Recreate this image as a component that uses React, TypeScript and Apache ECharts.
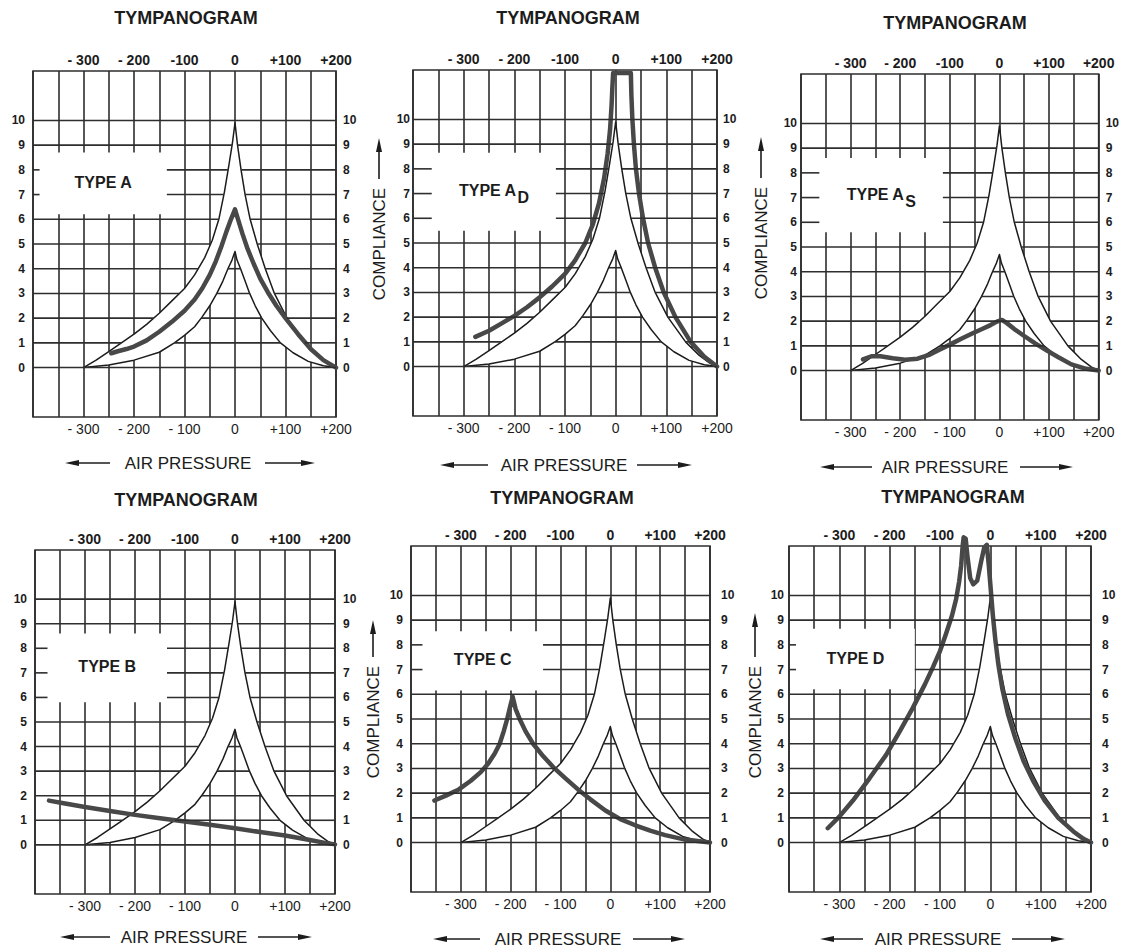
import React, { useEffect, useRef } from 'react';
import * as echarts from 'echarts';

// ---------- data ----------
const xMin = -400;
const xMax = 200;
const yMin = -2;
const yMax = 12;
const xTickValues = [-300, -200, -100, 0, 100, 200];
const xTopLabels = ['- 300', '- 200', '-100', '0', '+100', '+200'];
const xBottomLabels = ['- 300', '- 200', '- 100', '0', '+100', '+200'];
const yTickValues = [0, 1, 2, 3, 4, 5, 6, 7, 8, 9, 10];

// normal (Type A) region: upper and lower cusp boundaries
const normalOuter = [
  [-300, 0], [-275, 0.3], [-250, 0.65], [-225, 1.0], [-200, 1.35], [-175, 1.75], [-150, 2.2],
  [-125, 2.7], [-100, 3.2], [-80, 3.75], [-60, 4.45], [-45, 5.15], [-32, 6.0], [-21, 7.1],
  [-12, 8.2], [-5, 9.1], [0, 9.9], [5, 9.0], [12, 8.0], [20, 7.0], [30, 6.0], [44, 5.0],
  [60, 4.0], [78, 3.0], [103, 2.0], [138, 1.0], [165, 0.45], [185, 0.15], [200, 0],
];
const normalInner = [
  [-300, 0], [-250, 0.1], [-200, 0.3], [-150, 0.62], [-120, 1.0], [-100, 1.3], [-80, 1.65],
  [-65, 2.05], [-50, 2.5], [-36, 3.0], [-24, 3.5], [-14, 4.0], [-6, 4.35], [0, 4.7],
  [4, 4.35], [11, 4.0], [20, 3.5], [29, 3.0], [40, 2.5], [53, 2.0], [70, 1.5], [90, 1.0],
  [115, 0.6], [145, 0.25], [175, 0.07], [200, 0],
];

// patient tympanograms
const typeA = [
  [-245, 0.58], [-232, 0.66], [-215, 0.75], [-200, 0.85], [-175, 1.1], [-150, 1.45], [-125, 1.85],
  [-100, 2.3], [-80, 2.75], [-65, 3.2], [-50, 3.75], [-38, 4.3], [-27, 4.9], [-17, 5.5], [-8, 6.0],
  [0, 6.4], [6, 6.0], [15, 5.4], [25, 4.8], [37, 4.2], [50, 3.6], [65, 3.05], [82, 2.5], [100, 2.0],
  [125, 1.35], [150, 0.75], [175, 0.3], [200, 0],
];
const typeAD = [
  [-277, 1.2], [-250, 1.45], [-225, 1.75], [-200, 2.05], [-175, 2.4], [-150, 2.8], [-125, 3.25],
  [-100, 3.75], [-80, 4.3], [-60, 5.0], [-45, 5.75], [-33, 6.6], [-23, 7.6], [-16, 8.6], [-11, 9.6],
  [-8, 10.6], [-6.5, 11.3], [-5, 11.88], [30, 11.88], [31, 11], [33, 10], [36, 9], [40, 8], [46, 7],
  [54, 6], [64, 5], [78, 4], [95, 3], [118, 2], [148, 1], [175, 0.4], [200, 0],
];
const typeAS = [
  [-275, 0.45], [-258, 0.58], [-240, 0.58], [-215, 0.5], [-190, 0.44], [-165, 0.48], [-140, 0.65],
  [-120, 0.85], [-100, 1.05], [-78, 1.28], [-55, 1.5], [-35, 1.68], [-18, 1.84], [-5, 1.98], [5, 2.05],
  [15, 1.92], [30, 1.68], [50, 1.4], [72, 1.1], [95, 0.82], [118, 0.55], [145, 0.25], [175, 0.07], [200, 0],
];
const typeB = [
  [-372, 1.8], [-340, 1.68], [-300, 1.54], [-250, 1.38], [-200, 1.22], [-150, 1.08], [-100, 0.95],
  [-50, 0.82], [0, 0.68], [50, 0.52], [100, 0.38], [150, 0.2], [180, 0.08], [200, 0.02],
];
const typeC = [
  [-353, 1.7], [-330, 1.9], [-304, 2.15], [-280, 2.5], [-260, 2.85], [-245, 3.2], [-232, 3.6],
  [-222, 4.0], [-214, 4.5], [-207, 5.0], [-201, 5.5], [-196, 5.9], [-190, 5.4], [-182, 5.0],
  [-170, 4.5], [-155, 4.0], [-135, 3.5], [-112, 3.0], [-90, 2.6], [-65, 2.15], [-40, 1.75],
  [-10, 1.3], [20, 0.95], [50, 0.7], [80, 0.48], [110, 0.3], [150, 0.12], [200, 0],
];
const typeD = [
  [-323, 0.58], [-300, 1.05], [-273, 1.7], [-240, 2.6], [-207, 3.55], [-180, 4.5], [-154, 5.45],
  [-130, 6.4], [-114, 7.1], [-100, 7.75], [-88, 8.45], [-76, 9.2], [-68, 9.85], [-62, 10.55],
  [-58, 11.2], [-55, 12.0], [-53, 12.35], [-49, 12.3], [-45, 11.5], [-40, 10.7], [-34, 10.45],
  [-26, 10.6], [-18, 11.4], [-12, 11.95], [-7, 12.05], [-3, 11.2], [1, 10.2], [5, 9.2], [10, 8.2],
  [16, 7.2], [24, 6.2], [35, 5.2], [50, 4.2], [66, 3.3], [85, 2.5], [108, 1.7], [135, 1.0],
  [165, 0.45], [185, 0.15], [200, 0],
];

const titleText = 'TYMPANOGRAM';
const xAxisName = 'AIR PRESSURE';
const yAxisName = 'COMPLIANCE';
const typeNames = ['TYPE A', 'TYPE A', 'TYPE A', 'TYPE B', 'TYPE C', 'TYPE D'];
const typeSubs = ['', 'D', 'S', '', '', ''];
const curves = [typeA, typeAD, typeAS, typeB, typeC, typeD];

// ---------- layout ----------
const FONT = '"Liberation Sans", Arial, Helvetica, sans-serif';
const INK = '#1c1c1c';
const GRID_INK = '#2e2e2e';
const THICK_INK = '#484848';

const layout = [
  { g: [33, 71, 303, 346], box: [-387, -135, 6.2, 8.7], title: [186, 18], air: [188, 463], aL: [65, 110], aR: [265, 315], mL: 8, mR: 7 },
  { g: [413, 70, 304, 346], box: [-363, -118, 5.5, 8.65], title: [568, 18], air: [564, 465], aL: [440, 488], aR: [637, 692], mL: 3, mR: 6 },
  { g: [801, 74, 302, 346], box: [-363, -114, 5.6, 8.6], title: [955, 23], air: [945, 467], aL: [820, 872], aR: [1020, 1073], mL: 4, mR: 7 },
  { g: [35, 550, 300, 344], box: [-375, -136, 5.8, 8.6], title: [186, 500], air: [184, 937], aL: [60, 110], aR: [258, 312], mL: 8, mR: 8 },
  { g: [411, 546, 299, 346], box: [-377, -135, 6.15, 8.55], title: [562, 498], air: [558, 939], aL: [433, 480], aR: [633, 685], mL: 8, mR: 11 },
  { g: [789, 546, 302, 346], box: [-386, -150, 6.2, 8.65], title: [953, 497], air: [938, 939], aL: [820, 863], aR: [1012, 1065], mL: 5, mR: 11 },
];
const clipCurve = [true, true, true, true, true, false];

const complianceLabels = [
  { x: 379, cy: 244, tip: 138 },
  { x: 761, cy: 243, tip: 137 },
  { x: 373, cy: 722, tip: 620 },
  { x: 755, cy: 722, tip: 613 },
];

const fmtX = (labels: string[]) => (v: number) => {
  const i = xTickValues.indexOf(Math.round(v));
  return i >= 0 ? labels[i] : '';
};
const fmtY = (v: number) => (yTickValues.indexOf(Math.round(v)) >= 0 ? String(Math.round(v)) : '');

function hArrows(x0: number, x1: number, x2: number, x3: number, y: number) {
  const ls = { stroke: INK, lineWidth: 1.6 };
  return [
    { type: 'line', z: 10, shape: { x1: x0 + 8, y1: y, x2: x1, y2: y }, style: ls, silent: true },
    { type: 'polygon', z: 10, shape: { points: [[x0, y], [x0 + 14, y - 3], [x0 + 14, y + 3]] }, style: { fill: INK }, silent: true },
    { type: 'line', z: 10, shape: { x1: x2, y1: y, x2: x3 - 8, y2: y }, style: ls, silent: true },
    { type: 'polygon', z: 10, shape: { points: [[x3, y], [x3 - 14, y - 3], [x3 - 14, y + 3]] }, style: { fill: INK }, silent: true },
  ];
}

const labelRich = {
  b: { fontSize: 16, fontWeight: 'bold', fontFamily: FONT, fill: INK, lineHeight: 18, verticalAlign: 'top' },
  s: { fontSize: 16, fontWeight: 'bold', fontFamily: FONT, fill: INK, lineHeight: 18, verticalAlign: 'top', padding: [7, 0, 0, 1] },
};

// --- geometry helpers for the horizontal grid lines (they stop at the white band and box) ---
function peakIndex(c: number[][]) {
  let k = 0;
  c.forEach((p, i) => { if (p[1] > c[k][1]) k = i; });
  return k;
}
function crossX(c: number[][], from: number, to: number, v: number) {
  for (let j = from; j < to; j++) {
    const [x1, y1] = c[j];
    const [x2, y2] = c[j + 1];
    if ((y1 - v) * (y2 - v) <= 0 && y1 !== y2) return x1 + ((v - y1) * (x2 - x1)) / (y2 - y1);
  }
  return null;
}
function rowSegments(v: number, box: number[]) {
  const excl: number[][] = [];
  const [bx0, bx1, by0, by1] = box;
  if (v > by0 && v < by1) excl.push([bx0, bx1]);
  const po = peakIndex(normalOuter);
  const pi = peakIndex(normalInner);
  const oTop = normalOuter[po][1];
  const iTop = normalInner[pi][1];
  if (v > 0 && v < oTop) {
    const oL = crossX(normalOuter, 0, po, v);
    const oR = crossX(normalOuter, po, normalOuter.length - 1, v);
    if (oL !== null && oR !== null) {
      if (v < iTop) {
        const iL = crossX(normalInner, 0, pi, v);
        const iR = crossX(normalInner, pi, normalInner.length - 1, v);
        if (iL !== null && iR !== null) {
          excl.push([oL, iL]);
          excl.push([iR, oR]);
        }
      } else {
        excl.push([oL, oR]);
      }
    }
  }
  excl.sort((a, b) => a[0] - b[0]);
  const segs: number[][] = [];
  let cur = xMin;
  excl.forEach(([a, b]) => {
    if (a > cur) segs.push([cur, a]);
    cur = Math.max(cur, b);
  });
  if (cur < xMax) segs.push([cur, xMax]);
  return segs;
}

function buildOption() {
  const grid: any[] = [];
  const xAxis: any[] = [];
  const yAxis: any[] = [];
  const series: any[] = [];

  layout.forEach((L, i) => {
    const [left, top, width, height] = L.g;
    grid.push({ left, top, width, height, show: true, borderColor: GRID_INK, borderWidth: 1.6, backgroundColor: 'transparent' });

    const xBase = {
      type: 'value', gridIndex: i, min: xMin, max: xMax, interval: 50,
      axisLine: { show: false, onZero: false }, axisTick: { show: false },
    };
    xAxis.push({
      ...xBase, position: 'bottom',
      splitLine: { show: true, lineStyle: { color: GRID_INK, width: 1.6 } },
      axisLabel: { margin: 5, fontSize: 14, color: INK, fontFamily: FONT, formatter: fmtX(xBottomLabels) },
    });
    xAxis.push({
      ...xBase, position: 'top', splitLine: { show: false },
      axisLabel: { margin: 4, fontSize: 14, fontWeight: 'bold', color: INK, fontFamily: FONT, formatter: fmtX(xTopLabels) },
    });
    const yBase = {
      type: 'value', gridIndex: i, min: yMin, max: yMax, interval: 1,
      axisLine: { show: false, onZero: false }, axisTick: { show: false }, splitLine: { show: false },
    };
    yAxis.push({ ...yBase, position: 'left', axisLabel: { margin: L.mL, fontSize: 12, fontWeight: 'bold', color: INK, fontFamily: FONT, formatter: fmtY } });
    yAxis.push({ ...yBase, position: 'right', axisLabel: { margin: L.mR, fontSize: 12, fontWeight: 'bold', color: INK, fontFamily: FONT, formatter: fmtY } });

    const xi = 2 * i;
    const yi = 2 * i;
    const [bx0, bx1, by0, by1] = L.box;
    const labelText = '{b|' + typeNames[i] + '}' + (typeSubs[i] ? '{s|' + typeSubs[i] + '}' : '');

    // white normal band and white label box
    series.push({
      type: 'custom', xAxisIndex: xi, yAxisIndex: yi, z: 2, silent: true,
      data: [normalOuter[0]],
      encode: { x: 0, y: 1 },
      renderItem: (params: any, api: any) => {
        const pts = normalOuter.map((p) => api.coord(p)).concat(normalInner.slice().reverse().map((p) => api.coord(p)));
        const tl = api.coord([bx0, by1]);
        const br = api.coord([bx1, by0]);
        return {
          type: 'group',
          children: [
            { type: 'polygon', shape: { points: pts }, style: { fill: '#ffffff' } },
            { type: 'rect', shape: { x: tl[0], y: tl[1], width: br[0] - tl[0], height: br[1] - tl[1] }, style: { fill: '#ffffff' } },
            {
              type: 'text', x: (tl[0] + br[0]) / 2, y: (tl[1] + br[1]) / 2,
              style: { text: labelText, rich: labelRich, align: 'center', verticalAlign: 'middle', fontSize: 16, fontWeight: 'bold', fontFamily: FONT, fill: INK },
            },
          ],
        };
      },
    });

    // normal boundaries
    [normalOuter, normalInner].forEach((d) => {
      series.push({
        type: 'line', xAxisIndex: xi, yAxisIndex: yi, data: d, z: 4, silent: true,
        symbol: 'none', showSymbol: false, smooth: false,
        lineStyle: { color: INK, width: 1.5, join: 'round' },
      });
    });

    // patient curve
    series.push({
      type: 'line', xAxisIndex: xi, yAxisIndex: yi, data: curves[i], z: 5, silent: true,
      symbol: 'none', showSymbol: false, smooth: false, clip: clipCurve[i],
      lineStyle: { color: THICK_INK, width: 4.5, cap: 'round', join: 'round' },
    });
  });

  return {
    animation: false,
    backgroundColor: '#ffffff',
    textStyle: { fontFamily: FONT },
    grid, xAxis, yAxis, series,
  };
}

function buildGraphic(chart: any) {
  const graphic: any[] = [];
  // horizontal grid lines at compliance 0..10, drawn on top, interrupted by the band and label box
  layout.forEach((L, i) => {
    yTickValues.forEach((v) => {
      rowSegments(v, L.box).forEach(([s0, s1]) => {
        const a = chart.convertToPixel({ gridIndex: i }, [s0, v]);
        const b = chart.convertToPixel({ gridIndex: i }, [s1, v]);
        if (!a || !b) return;
        graphic.push({
          type: 'rect', z: 10, silent: true,
          shape: { x: a[0], y: a[1] - 0.8, width: b[0] - a[0], height: 1.6 },
          style: { fill: GRID_INK },
        });
      });
    });
  });
  layout.forEach((L) => {
    graphic.push({
      type: 'text', x: L.title[0], y: L.title[1], silent: true, z: 10,
      style: { text: titleText, align: 'center', verticalAlign: 'middle', fontSize: 18, fontWeight: 'bold', fontFamily: FONT, fill: INK },
    });
    graphic.push({
      type: 'text', x: L.air[0], y: L.air[1], silent: true, z: 10,
      style: { text: xAxisName, align: 'center', verticalAlign: 'middle', fontSize: 17, fontFamily: FONT, fill: INK },
    });
    graphic.push(...hArrows(L.aL[0], L.aL[1], L.aR[0], L.aR[1], L.air[1]));
  });
  complianceLabels.forEach((c) => {
    const textTop = c.cy - 59;
    graphic.push({
      type: 'text', x: c.x, y: c.cy, rotation: Math.PI / 2, silent: true, z: 10,
      style: { text: yAxisName, align: 'center', verticalAlign: 'middle', fontSize: 17, fontFamily: FONT, fill: INK },
    });
    graphic.push({ type: 'line', z: 10, shape: { x1: c.x, y1: c.tip + 8, x2: c.x, y2: textTop - 6 }, style: { stroke: INK, lineWidth: 1.6 }, silent: true });
    graphic.push({ type: 'polygon', z: 10, shape: { points: [[c.x, c.tip], [c.x - 3, c.tip + 14], [c.x + 3, c.tip + 14]] }, style: { fill: INK }, silent: true });
  });
  return graphic;
}

export default function App() {
  const ref = useRef<HTMLDivElement>(null);
  useEffect(() => {
    if (!ref.current) return;
    const chart = echarts.init(ref.current, undefined, { renderer: 'svg' });
    chart.setOption(buildOption() as any);
    chart.setOption({ graphic: buildGraphic(chart) } as any);
    return () => chart.dispose();
  }, []);
  return (
    <div
      ref={ref}
      style={{ position: 'absolute', left: 0, top: 0, width: 1122, height: 949, background: '#fff' }}
    />
  );
}
